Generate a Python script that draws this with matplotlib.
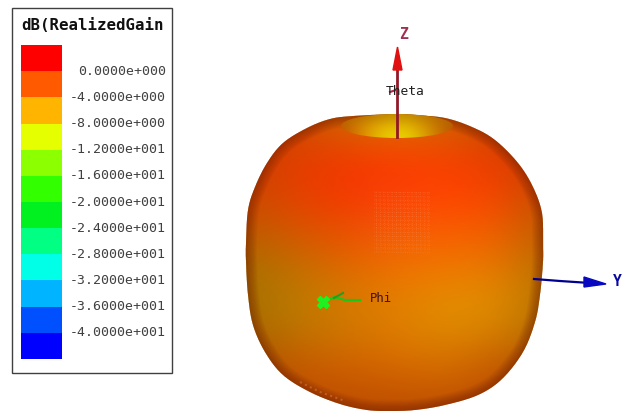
import numpy as np
import matplotlib.pyplot as plt
from matplotlib.colors import to_rgb
from matplotlib.patches import Rectangle, Ellipse, PathPatch
from matplotlib.path import Path

title = 'dB(RealizedGain'
levels = [4, 0, -4, -8, -12, -16, -20, -24, -28, -32, -36, -40, -44]
band_colors = ['#ff0000', '#ff5a00', '#ffb400', '#e6ff00', '#8cff00', '#32ff00',
               '#00f020', '#00ff82', '#00ffe6', '#00b4ff', '#0050ff', '#0000ff']
tick_labels = ['0.0000e+000', '-4.0000e+000', '-8.0000e+000', '-1.2000e+001',
               '-1.6000e+001', '-2.0000e+001', '-2.4000e+001', '-2.8000e+001',
               '-3.2000e+001', '-3.6000e+001', '-4.0000e+001']

# outline of the pattern (pixels), clockwise from the top
sil_x = [397, 415, 445, 472, 495, 518, 533, 542, 543, 543, 540, 535, 523, 502, 478, 445, 415,
         390, 367, 340, 310, 283, 265, 253, 248, 246, 246, 248, 255, 267, 283, 307, 330, 353]
sil_y = [114, 115, 118, 127, 140, 163, 187, 213, 243, 262, 295, 322, 352, 379, 395, 405, 410,
         411, 410, 404, 392, 375, 352, 325, 295, 262, 243, 210, 187, 163, 143, 128, 119, 116]

# surface colours at grid points x 245..545 step 50, y 115..415 step 50
surface = [
    ['#c04000', '#c85000', '#c87000', '#d88000', '#c87000', '#c05000', '#b04000'],
    ['#c84000', '#e83a00', '#f83000', '#ff3000', '#ff3800', '#f03800', '#c84000'],
    ['#c85000', '#e04a00', '#f04000', '#f85010', '#ff5000', '#f85000', '#c05800'],
    ['#a87000', '#c07000', '#e06800', '#f07000', '#f07800', '#e87800', '#b87000'],
    ['#a87000', '#b88000', '#d08000', '#e08400', '#e09400', '#e09400', '#b87800'],
    ['#a85000', '#c85800', '#d06000', '#d86800', '#d87000', '#c85800', '#a85000'],
    ['#a83a00', '#b84800', '#b84800', '#b84800', '#b84800', '#b84800', '#a83a00'],
]

# dish at the top: colours at x 342..452, y 114..138
dish = [
    ['#b06000', '#b87000', '#c08800', '#c09000', '#b87000', '#b06000'],
    ['#c05800', '#d89000', '#e8b800', '#e8b800', '#d08800', '#b85800'],
    ['#c85000', '#e09000', '#e8d000', '#e8d800', '#d89000', '#c05000'],
]

legend_box = (12, 8, 160, 365)


def smooth_closed(xs, ys, n=12):
    # catmull-rom through the outline points
    p = np.column_stack([xs, ys]).astype(float)
    out = []
    for i in range(len(p)):
        p0, p1, p2, p3 = p[i - 1], p[i], p[(i + 1) % len(p)], p[(i + 2) % len(p)]
        for t in np.linspace(0, 1, n, endpoint=False):
            out.append(0.5 * (2 * p1 + (p2 - p0) * t + (2 * p0 - 5 * p1 + 4 * p2 - p3) * t ** 2
                              + (3 * p1 - p0 - 3 * p2 + p3) * t ** 3))
    out.append(out[0])
    return np.array(out)


def rgb_grid(rows):
    return np.array([[to_rgb(c) for c in r] for r in rows])


fig = plt.figure(figsize=(6.24, 4.12), dpi=100)
ax = fig.add_axes([0, 0, 1, 1])
ax.axis('off')

# pattern body
outline = Path(smooth_closed(sil_x, sil_y))
body = PathPatch(outline, fc='none', ec='none')
ax.add_patch(body)
im = ax.imshow(rgb_grid(surface), extent=(220, 570, 440, 90), interpolation='bicubic', aspect='auto', zorder=2)
im.set_clip_path(body)

# darker rim
for lw in range(1, 17):
    rim_line = PathPatch(outline, fc='none', ec='#702000', lw=lw, alpha=0.035, zorder=3)
    ax.add_patch(rim_line)
    rim_line.set_clip_path(body)

# dish
rim = Ellipse((397, 126), 112, 24, fc='none', ec='none')
ax.add_patch(rim)
im2 = ax.imshow(rgb_grid(dish), extent=(332, 462, 142, 110), interpolation='bicubic', aspect='auto', zorder=3)
im2.set_clip_path(rim)

# mesh showing through near the middle
for gx in range(376, 430, 4):
    ax.plot([gx, gx + 1], [192, 252], color='#ffa870', lw=0.6, ls=':', alpha=0.3, zorder=4)
for gy in range(192, 254, 4):
    ax.plot([374, 430], [gy, gy + 1], color='#ffa870', lw=0.6, ls=':', alpha=0.3, zorder=4)

# rough patch at the lower left edge
ax.plot([300, 320, 345], [382, 392, 401], color='#e08848', lw=1.5, ls=':', alpha=0.45, zorder=4)

ax.set_xlim(0, 624)
ax.set_ylim(412, 0)

# Z axis
ax.plot([397, 397], [137, 65], color='#901828', lw=2, zorder=5)
ax.fill([397.5, 393, 402], [47, 70, 70], color='#e01010', zorder=6)
ax.text(403, 34, 'Z', color='#a03050', family='DejaVu Sans Mono', weight='bold', fontsize=10.5,
        ha='center', va='center', zorder=7)
ax.plot([390, 396], [92, 90], color='#c02040', lw=1.5, zorder=6)
ax.text(405, 91, 'Theta', color='#202020', family='DejaVu Sans Mono', fontsize=9.3,
        ha='center', va='center', zorder=7)

# Y axis
ax.plot([534, 560, 590], [279, 281, 283], color='#000090', lw=1.6, zorder=5)
ax.fill([606, 584, 584], [284, 277, 287], color='#0808c0', zorder=6)
ax.text(617, 281, 'Y', color='#0808a0', family='DejaVu Sans Mono', weight='bold', fontsize=10.5,
        ha='center', va='center', zorder=7)

# Phi axis
ax.plot([360, 345, 334, 325], [300, 300, 297, 302], color='#18c818', lw=1.5, zorder=5)
ax.plot([334, 343], [298, 293], color='#20a020', lw=1.5, zorder=5)
ax.plot([323], [302], marker='X', ms=8, color='#20f020', zorder=6)
ax.text(381, 298, 'Phi', color='#401020', family='DejaVu Sans Mono', fontsize=8.8,
        ha='center', va='center', zorder=7)

# legend
ax.add_patch(Rectangle(legend_box[:2], legend_box[2], legend_box[3], fc='white', ec='#404040', lw=1, zorder=8))
ax.text(92, 25, title, family='DejaVu Sans Mono', weight='bold', fontsize=11.3, color='#101010',
        ha='center', va='center', zorder=9)

cax = fig.add_axes([21 / 624, 1 - 359 / 412, 41 / 624, 314 / 412], zorder=10)
cax.set_xlim(0, 1)
cax.set_ylim(levels[-1], levels[0])
cax.bar(0.5, np.abs(np.diff(levels)), width=1, bottom=levels[1:], color=band_colors, linewidth=0)
cax.axis('off')

for lev, lab in zip(levels[1:-1], tick_labels):
    py = 45 + (levels[0] - lev) / (levels[0] - levels[-1]) * 314
    ax.text(166, py, lab, family='DejaVu Sans Mono', fontsize=9.5, color='#404040',
            ha='right', va='center', zorder=9)

fig.savefig('out.png', dpi=100)
